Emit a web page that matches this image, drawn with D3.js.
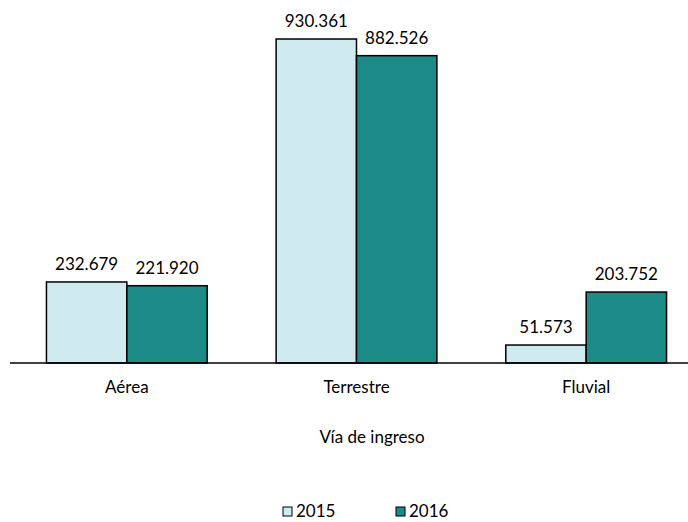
<!DOCTYPE html>
<html>
<head>
    <meta charset="utf-8">
    <script src="https://d3js.org/d3.v7.min.js"></script>
    <style>
        body { margin: 0; background: #fff; }
        text { font-family: Lato, "Open Sans", sans-serif; fill: #000; }
    </style>
</head>
<body>
    <div id="container"></div>
    <script>
        const width = 688;
        const height = 522;

        const categories = ['Aérea', 'Terrestre', 'Fluvial'];
        const years = ['2015', '2016'];
        const v2015 = [232.679, 930.361, 51.573];
        const v2016 = [221.920, 882.526, 203.752];
        const labels2015 = ['232.679', '930.361', '51.573'];
        const labels2016 = ['221.920', '882.526', '203.752'];
        const colors = ['#d0ebef', '#1c8a87'];

        const rows = categories.map((c, i) => ({
            cat: c,
            vals: [
                { year: years[0], v: v2015[i], label: labels2015[i] },
                { year: years[1], v: v2016[i], label: labels2016[i] }
            ]
        }));

        const x = d3.scaleBand()
            .domain(categories)
            .range([12, 701])
            .paddingInner(0.3)
            .paddingOuter(0.15);

        const x1 = d3.scaleBand()
            .domain(years)
            .range([0, x.bandwidth()]);

        const y = d3.scaleLinear()
            .domain([0, 1000])
            .range([363, 14.75]);

        const color = d3.scaleOrdinal().domain(years).range(colors);

        const svg = d3.select("#container").append("svg")
            .attr("width", width)
            .attr("height", height);

        const groups = svg.selectAll("g.cat")
            .data(rows)
            .join("g")
            .attr("class", "cat")
            .attr("transform", d => `translate(${x(d.cat)},0)`);

        groups.selectAll("rect")
            .data(d => d.vals)
            .join("rect")
            .attr("x", d => x1(d.year))
            .attr("y", d => y(d.v))
            .attr("width", x1.bandwidth())
            .attr("height", d => y(0) - y(d.v))
            .attr("fill", d => color(d.year))
            .attr("stroke", "#000")
            .attr("stroke-width", 1.5);

        groups.selectAll("text.val")
            .data(d => d.vals)
            .join("text")
            .attr("class", "val")
            .attr("x", d => x1(d.year) + x1.bandwidth() / 2)
            .attr("y", d => y(d.v) - 12)
            .attr("text-anchor", "middle")
            .style("font-size", "17px")
            .text(d => d.label);

        // baseline axis
        const axis = svg.append("g")
            .attr("transform", `translate(0,${y(0)})`)
            .call(d3.axisBottom(x).tickSize(0).tickPadding(18));
        axis.select(".domain")
            .attr("d", "M10,0H688")
            .attr("stroke", "#000")
            .attr("stroke-width", 1.5);
        axis.selectAll(".tick text")
            .style("font-size", "17px")
            .style("font-family", "Lato, 'Open Sans', sans-serif")
            .attr("fill", "#000");

        svg.append("text")
            .attr("x", 372)
            .attr("y", 443)
            .attr("text-anchor", "middle")
            .style("font-size", "17px")
            .text("Vía de ingreso");

        // legend
        const legendX = [283, 396];
        const legend = svg.selectAll("g.legend")
            .data(years)
            .join("g")
            .attr("class", "legend")
            .attr("transform", (d, i) => `translate(${legendX[i]},507)`);
        legend.append("rect")
            .attr("width", 9)
            .attr("height", 9)
            .attr("fill", d => color(d))
            .attr("stroke", "#000")
            .attr("stroke-width", 1);
        legend.append("text")
            .attr("x", 13)
            .attr("y", 10)
            .style("font-size", "17px")
            .text(d => d);
    </script>
</body>
</html>
